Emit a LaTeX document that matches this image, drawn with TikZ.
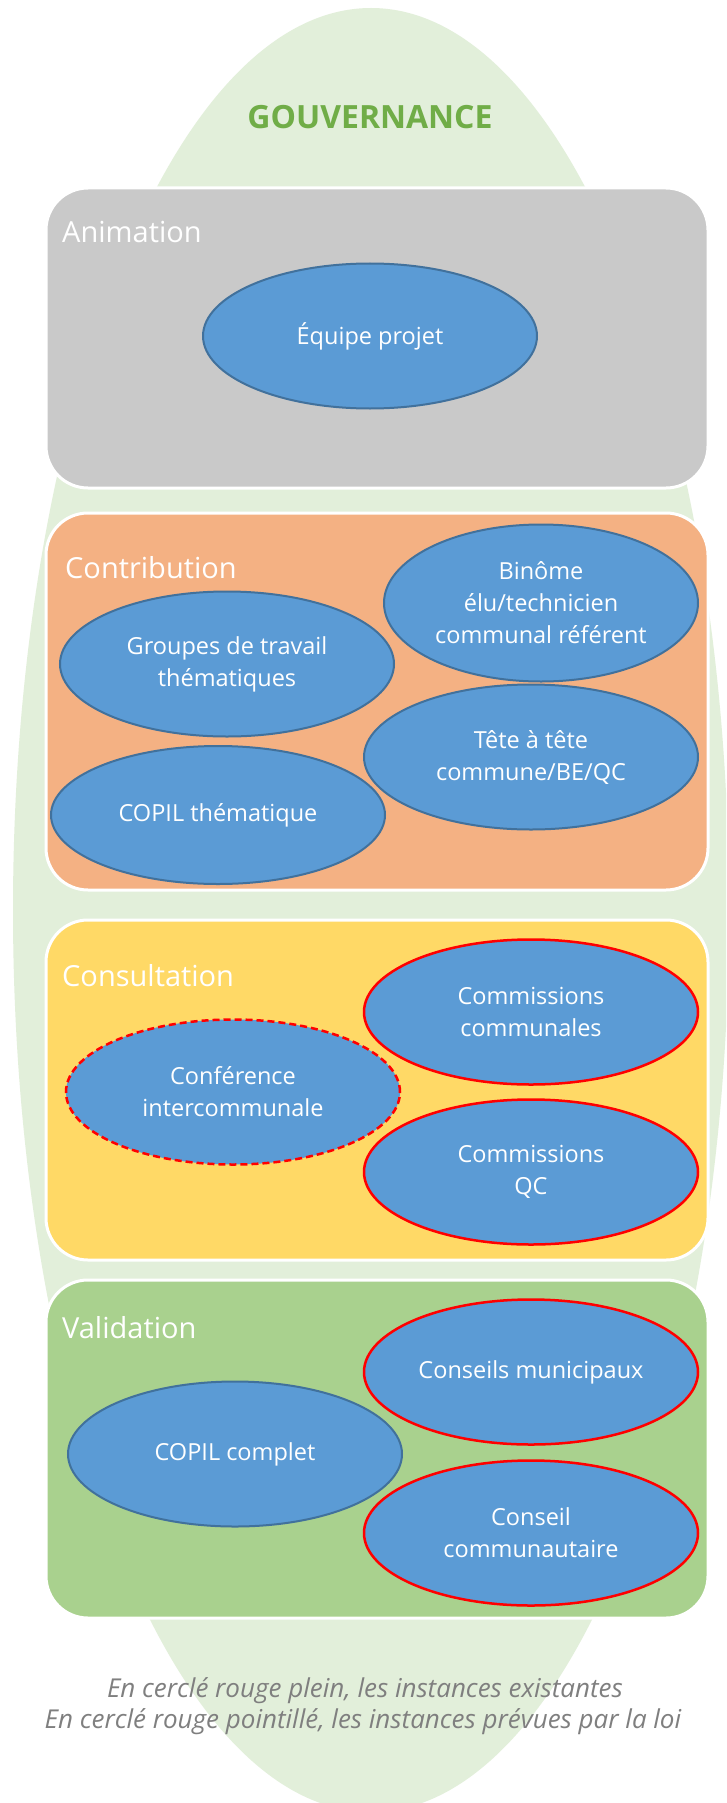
\documentclass[tikz,border=0pt]{standalone}
\usepackage{fontspec}
\setmainfont{Open Sans}
\usetikzlibrary{shapes.geometric}

\definecolor{fondvert}{HTML}{E2EFDA}
\definecolor{titrevert}{HTML}{70AD47}
\definecolor{gris}{HTML}{C9C9C9}
\definecolor{orange}{HTML}{F4B183}
\definecolor{jaune}{HTML}{FFD966}
\definecolor{vert}{HTML}{A9D18E}
\definecolor{bleu}{HTML}{5B9BD5}
\definecolor{bleufonce}{HTML}{41719C}
\definecolor{rouge}{HTML}{FF0000}
\definecolor{legendegris}{HTML}{7F7F7F}

\tikzset{
	boite/.style={draw=white, line width=3pt, rounded corners=42pt, minimum width=662pt, inner sep=0pt},
	etiquette/.style={anchor=base west, text=white, font=\fontsize{29}{34}\selectfont, inner sep=0pt},
	bulle/.style={ellipse, fill=bleu, draw=bleufonce, line width=2pt, text=white, align=center, inner sep=0pt, minimum width=334pt, minimum height=145pt, font=\fontsize{23.5}{32}\selectfont},
	existante/.style={draw=rouge, line width=2.5pt},
	prevue/.style={draw=rouge, line width=2.5pt, dash pattern=on 7pt off 4pt},
	legende/.style={anchor=base, text=legendegris, font=\itshape\fontsize{26}{31}\selectfont, inner sep=0pt}
}

\begin{document}
\begin{tikzpicture}[x=1pt,y=-1pt]
	\useasboundingbox[fill=white] (0,0) rectangle (726,1803);
	\begin{scope}
		\clip (0,0) rectangle (726,1803);
		\fill[fondvert] (371,910) ellipse [x radius=358pt, y radius=902pt];
	\end{scope}
	\node[text=titrevert, font=\bfseries\fontsize{32}{38}\selectfont] (gouvernance) at (370,117) {GOUVERNANCE};

	% Animation
	\node[boite, fill=gris, minimum height=300pt] (animation) at (377,338) {};
	\node[etiquette] (lanimation) at (62,243) {Animation};
	\node[bulle] (equipe) at (370,336) {Équipe projet};

	% Contribution
	\node[boite, fill=orange, minimum height=377pt] (contribution) at (377,701.5) {};
	\node[etiquette] (lcontribution) at (65,578) {Contribution};
	\node[bulle, minimum width=314pt, minimum height=157pt] (binome) at (541,603) {Binôme\\élu/technicien\\communal référent};
	\node[bulle] (groupes) at (227,664) {Groupes de travail\\thématiques};
	\node[bulle] (tete) at (531,757) {Tête à tête\\commune/BE/QC};
	\node[bulle, minimum height=138pt] (copilth) at (218,815) {COPIL thématique};

	% Consultation
	\node[boite, fill=jaune, minimum height=340pt] (consultation) at (377,1090) {};
	\node[etiquette] (lconsultation) at (62,986) {Consultation};
	\node[bulle, existante] (comcommunales) at (531,1012) {Commissions\\communales};
	\node[bulle, prevue] (conference) at (233,1092) {Conférence\\intercommunale};
	\node[bulle, existante] (comqc) at (531,1172) {Commissions\\QC};

	% Validation
	\node[boite, fill=vert, minimum height=338pt] (validation) at (377,1449) {};
	\node[etiquette] (lvalidation) at (62,1338) {Validation};
	\node[bulle, existante] (conseils) at (531,1372) {Conseils municipaux};
	\node[bulle] (copilcomplet) at (235,1454) {COPIL complet};
	\node[bulle, existante] (conseilcom) at (531,1533) {Conseil\\communautaire};

	% legende
	\node[legende] (legende1) at (365,1697) {En cerclé rouge plein, les instances existantes};
	\node[legende] (legende2) at (363,1728) {En cerclé rouge pointillé, les instances prévues par la loi};
\end{tikzpicture}
\end{document}
